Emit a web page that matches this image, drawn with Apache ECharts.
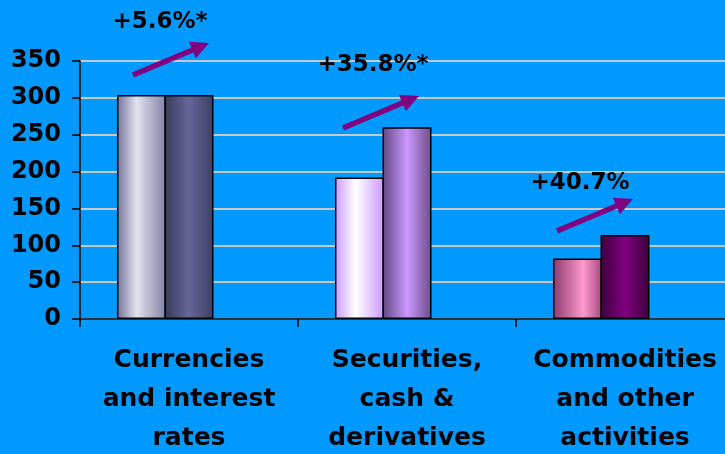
<!DOCTYPE html>
<html>
<head>
<meta charset="utf-8">
<script src="https://cdn.jsdelivr.net/npm/echarts@6/dist/echarts.min.js"></script>
<style>
  html, body { margin: 0; padding: 0; background: #0099ff; }
  #chart { width: 725px; height: 454px; }
</style>
</head>
<body>
<div id="chart"></div>
<script>
// chart data
const categories = ['Currencies\nand interest\nrates', 'Securities,\ncash &\nderivatives', 'Commodities\nand other\nactivities']
const earlierValues = [304, 192, 82]
const laterValues = [304, 260, 114]
const growthLabels = ['+5.6%*', '+35.8%*', '+40.7%']
const yTicks = { min: 0, max: 350, interval: 50 }

const FONT = 'DejaVu Sans'

// horizontal shading, like the old 3D office bars
const shade = (edgeL, mid, edgeR, midAt = 0.45) =>
  new echarts.graphic.LinearGradient(0, 0, 1, 0, [
    { offset: 0, color: edgeL },
    { offset: midAt, color: mid },
    { offset: 1, color: edgeR }
  ])

const earlierColors = [
  shade('#72729a', '#e2e2ee', '#8282a6', 0.4),
  shade('#cc99ff', '#ffffff', '#cc99ff', 0.42),
  shade('#8a3a6e', '#ff99cc', '#a4487e', 0.62)
]
const laterColors = [
  shade('#3a3a5c', '#66669a', '#3e3e60', 0.5),
  shade('#5e4680', '#cc99ff', '#6a4c88', 0.5),
  shade('#3c003c', '#800080', '#3c003c', 0.5)
]

const withColors = (values, colors) =>
  values.map((v, i) => ({ value: v, itemStyle: { color: colors[i] } }))

// annotation arrow polygon: from tail to tip
const arrow = (x1, y1, x2, y2) => {
  const dx = x2 - x1
  const dy = y2 - y1
  const len = Math.hypot(dx, dy)
  const ux = dx / len
  const uy = dy / len
  const nx = -uy
  const ny = ux
  const headLen = 18
  const headW = 9
  const shaft = 2.6
  const bx = x2 - ux * headLen
  const by = y2 - uy * headLen
  return [
    [x1 + nx * shaft, y1 + ny * shaft],
    [bx + nx * shaft, by + ny * shaft],
    [bx + nx * headW, by + ny * headW],
    [x2, y2],
    [bx - nx * headW, by - ny * headW],
    [bx - nx * shaft, by - ny * shaft],
    [x1 - nx * shaft, y1 - ny * shaft]
  ]
}

const arrowSpots = [
  [133, 75, 209, 43],
  [343, 128, 419, 96],
  [557, 231, 633, 199]
]
const textSpots = [
  [160, 22],
  [373, 65],
  [580, 183]
]

const chart = echarts.init(document.getElementById('chart'))

const barStyle = { borderColor: '#000', borderWidth: 1.5 }

chart.setOption({
  backgroundColor: '#0099ff',
  animation: false,
  grid: {
    left: 80,
    width: 654,
    top: 61,
    bottom: 135,
    containLabel: false,
    outerBoundsMode: 'none'
  },
  xAxis: {
    type: 'category',
    data: categories,
    axisLine: { lineStyle: { color: '#000', width: 1.5 } },
    axisTick: { show: true, length: 8, lineStyle: { color: '#000', width: 1.5 } },
    axisLabel: {
      color: '#000',
      fontFamily: FONT,
      fontWeight: 'bold',
      fontSize: 25,
      lineHeight: 39,
      margin: 22,
      interval: 0
    }
  },
  yAxis: {
    type: 'value',
    min: yTicks.min,
    max: yTicks.max,
    interval: yTicks.interval,
    axisLine: { show: true, lineStyle: { color: '#000', width: 1.5 } },
    axisTick: { show: true, length: 8, lineStyle: { color: '#000', width: 1.5 } },
    splitLine: { lineStyle: { color: '#c8c8c8', width: 2 } },
    axisLabel: {
      color: '#000',
      fontFamily: FONT,
      fontWeight: 'bold',
      fontSize: 24,
      margin: 19
    }
  },
  series: [
    {
      type: 'bar',
      data: withColors(earlierValues, earlierColors),
      barWidth: 49,
      barGap: '-3%',
      itemStyle: barStyle
    },
    {
      type: 'bar',
      data: withColors(laterValues, laterColors),
      barWidth: 49,
      barGap: '-3%',
      itemStyle: barStyle
    },
    // empty slot: the original leaves room for a third bar on the right
    {
      type: 'bar',
      data: [],
      barWidth: 49,
      barGap: '-3%'
    }
  ],
  graphic: [
    ...arrowSpots.map((p) => ({
      type: 'polygon',
      shape: { points: arrow(p[0], p[1], p[2], p[3]) },
      style: { fill: '#800080' },
      z: 100
    })),
    ...growthLabels.map((t, i) => ({
      type: 'text',
      x: textSpots[i][0],
      y: textSpots[i][1],
      style: {
        text: t,
        fill: '#000',
        font: `bold 23px "${FONT}"`,
        textAlign: 'center',
        textVerticalAlign: 'middle'
      },
      z: 100
    }))
  ]
})
</script>
</body>
</html>
